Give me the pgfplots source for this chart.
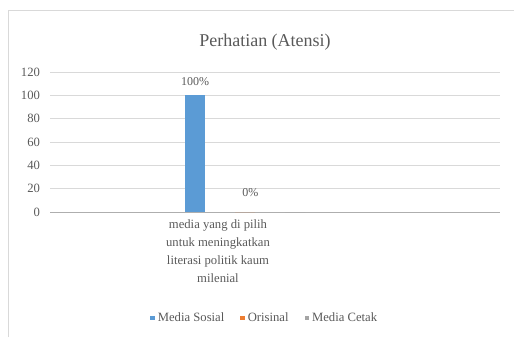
\documentclass[border=0pt]{standalone}
\usepackage{pgfplots}
\pgfplotsset{compat=1.18}
\usepackage{fontspec}
\setmainfont{Liberation Serif}
\definecolor{cblue}{HTML}{5B9BD5}
\definecolor{corange}{HTML}{ED7D31}
\definecolor{cgray}{HTML}{A5A5A5}
\definecolor{ctext}{HTML}{595959}
\definecolor{cgrid}{HTML}{D9D9D9}
\begin{document}
\begin{tikzpicture}
\path[use as bounding box] (-37.5pt,-93.75pt) rectangle (348pt,159pt);
\draw[cgrid, line width=0.6pt] (-31.5pt,-93.75pt) -- (-31.5pt,151.5pt) -- (348pt,151.5pt);
\node[ctext, font=\fontsize{13.5}{16}\selectfont] at (161.25pt,127.5pt) {Perhatian (Atensi)};
\begin{axis}[
  at={(0,0)}, anchor=origin,
  scale only axis, width=337.5pt, height=105pt,
  xmin=0, xmax=450, ymin=0, ymax=120,
  ytick={0,20,...,120},
  /pgf/number format/assume math mode=true,
  ymajorgrids, grid style={cgrid, line width=0.6pt},
  axis line style={draw=none},
  major tick length=0pt,
  xtick={168}, xticklabels={{media yang di pilih\\untuk meningkatkan\\literasi politik kaum\\milenial}},
  xticklabel style={align=center, font=\fontsize{9.5}{13.5}\selectfont, color=ctext, yshift=-2pt},
  yticklabel style={font=\fontsize{9.5}{10}\selectfont, color=ctext, xshift=-4pt},
  ybar, bar width=20, 
  every axis plot/.append style={bar shift=0pt, draw=none},
  legend columns=3,
  legend style={at={(0.478,-0.757)}, anchor=center, draw=none, fill=none,
    font=\fontsize{9.5}{11}\selectfont, text=ctext,
    /tikz/every even column/.append style={column sep=10pt}},
  legend image code/.code={\fill[#1] (0pt,-1.8pt) rectangle (3.6pt,1.8pt);},
  nodes near coords style={font=\fontsize{9}{10}\selectfont, color=ctext},
  extra y ticks={0}, extra y tick labels={},
  extra y tick style={grid style={color=cgrid!80!black}},
]
\addplot[fill=cblue, nodes near coords={\pgfmathprintnumber{\pgfplotspointmeta}\%}, nodes near coords style={yshift=4pt}] coordinates {(145,100)};
\addlegendentry{Media Sosial}
\addplot[fill=corange, nodes near coords={\pgfmathprintnumber{\pgfplotspointmeta}\%}, nodes near coords style={yshift=8pt, xshift=4pt}] coordinates {(195,0)};
\addlegendentry{Orisinal}
\addplot[fill=cgray] coordinates {(245,0)};
\addlegendentry{Media Cetak}
\end{axis}
\end{tikzpicture}
\end{document}
